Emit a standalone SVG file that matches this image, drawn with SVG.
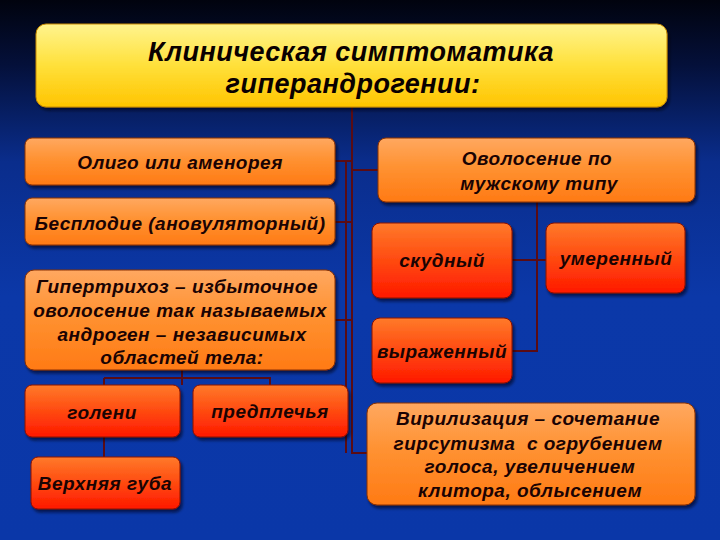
<svg xmlns="http://www.w3.org/2000/svg" width="720" height="540" viewBox="0 0 720 540">
<defs>
<linearGradient id="bg" x1="0" y1="0" x2="0" y2="1">
<stop offset="0" stop-color="#01030e"/>
<stop offset="0.12" stop-color="#04103a"/>
<stop offset="0.3" stop-color="#0a2d8c"/>
<stop offset="0.55" stop-color="#0b38a8"/>
<stop offset="1" stop-color="#0a37a8"/>
</linearGradient>
<linearGradient id="yel" x1="0" y1="0" x2="0" y2="1">
<stop offset="0" stop-color="#fff48e"/>
<stop offset="0.5" stop-color="#ffe03a"/>
<stop offset="1" stop-color="#ffc400"/>
</linearGradient>
<linearGradient id="org" x1="0" y1="0" x2="0" y2="1">
<stop offset="0" stop-color="#ffa860"/>
<stop offset="0.45" stop-color="#ff9232"/>
<stop offset="1" stop-color="#ff7a14"/>
</linearGradient>
<linearGradient id="red" x1="0" y1="0" x2="0" y2="1">
<stop offset="0" stop-color="#ff7a2a"/>
<stop offset="0.5" stop-color="#ff4a10"/>
<stop offset="1" stop-color="#ff1800"/>
</linearGradient>
<filter id="sh" x="-10%" y="-10%" width="120%" height="130%">
<feDropShadow dx="2" dy="3" stdDeviation="1.5" flood-color="#000010" flood-opacity="0.6"/>
</filter>
</defs>
<style>
.yb{fill:url(#yel);stroke:#c98a00;stroke-width:1}
.ob{fill:url(#org);stroke:#8a3000;stroke-width:1}
.rb{fill:url(#red);stroke:#8a1000;stroke-width:1}
text{font-family:"Liberation Sans",Arial,sans-serif;font-weight:bold;font-style:italic;fill:#1a0303;text-anchor:middle}
.t{font-size:27px;letter-spacing:0.5px;fill:#0a0000}
.s{font-size:19px;letter-spacing:0.5px}
.c{stroke:#5a0c14;stroke-width:2;fill:none}
</style>
<rect x="0" y="0" width="720" height="540" fill="url(#bg)"/>

<g id="connectors">
<path class="c" d="M352 107 V453 H367"/>
<path class="c" d="M346 160 V453"/>
<path class="c" d="M335 161 H352"/>
<path class="c" d="M335 222 H352"/>
<path class="c" d="M335 320 H352"/>
<path class="c" d="M352 170 H379"/>
<path class="c" d="M537 202 V351 H512"/>
<path class="c" d="M512 260 H546"/>
<path class="c" d="M182 370 V385"/>
<path class="c" d="M104 378 H270 V385"/>
<path class="c" d="M104 378 V457"/>
</g>

<g id="title">
<rect class="yb" x="36" y="24" width="631" height="83" rx="10" filter="url(#sh)"/>
<text class="t" x="351" y="61">Клиническая симптоматика</text>
<text class="t" x="353" y="93">гиперандрогении:</text>
</g>

<g id="oligo">
<rect class="ob" x="25" y="138" width="310" height="47" rx="7" filter="url(#sh)"/>
<text class="s" x="180" y="169">Олиго или аменорея</text>
</g>

<g id="besplodie">
<rect class="ob" x="25" y="198" width="310" height="47" rx="7" filter="url(#sh)"/>
<text class="s" x="180" y="230">Бесплодие (ановуляторный)</text>
</g>

<g id="gipertrihoz">
<rect class="ob" x="25" y="270" width="310" height="100" rx="9" filter="url(#sh)"/>
<text class="s" x="177" y="293">Гипертрихоз – избыточное</text>
<text class="s" x="180" y="317">оволосение так называемых</text>
<text class="s" x="182" y="341">андроген – независимых</text>
<text class="s" x="182" y="364">областей тела:</text>
</g>

<g id="goleni">
<rect class="rb" x="25" y="385" width="155" height="52" rx="7" filter="url(#sh)"/>
<text class="s" x="102" y="419">голени</text>
</g>

<g id="predplechya">
<rect class="rb" x="193" y="385" width="155" height="52" rx="7" filter="url(#sh)"/>
<text class="s" x="270" y="418">предплечья</text>
</g>

<g id="guba">
<rect class="rb" x="31" y="457" width="149" height="52" rx="7" filter="url(#sh)"/>
<text class="s" x="105" y="490">Верхняя губа</text>
</g>

<g id="ovolosenie">
<rect class="ob" x="378" y="138" width="317" height="64" rx="8" filter="url(#sh)"/>
<text class="s" x="537" y="165">Оволосение по</text>
<text class="s" x="539" y="190">мужскому типу</text>
</g>

<g id="skudny">
<rect class="rb" x="372" y="223" width="140" height="75" rx="8" filter="url(#sh)"/>
<text class="s" x="442" y="267">скудный</text>
</g>

<g id="umerenny">
<rect class="rb" x="546" y="223" width="139" height="70" rx="8" filter="url(#sh)"/>
<text class="s" x="616" y="265">умеренный</text>
</g>

<g id="vyrazhenny">
<rect class="rb" x="372" y="318" width="140" height="65" rx="8" filter="url(#sh)"/>
<text class="s" x="442" y="358">выраженный</text>
</g>

<g id="virilizaciya">
<rect class="ob" x="367" y="403" width="328" height="102" rx="10" filter="url(#sh)"/>
<text class="s" x="528" y="425">Вирилизация – сочетание</text>
<text class="s" x="528" y="450" xml:space="preserve">гирсутизма  с огрубением</text>
<text class="s" x="530" y="473">голоса, увеличением</text>
<text class="s" x="530" y="497">клитора, облысением</text>
</g>
</svg>
